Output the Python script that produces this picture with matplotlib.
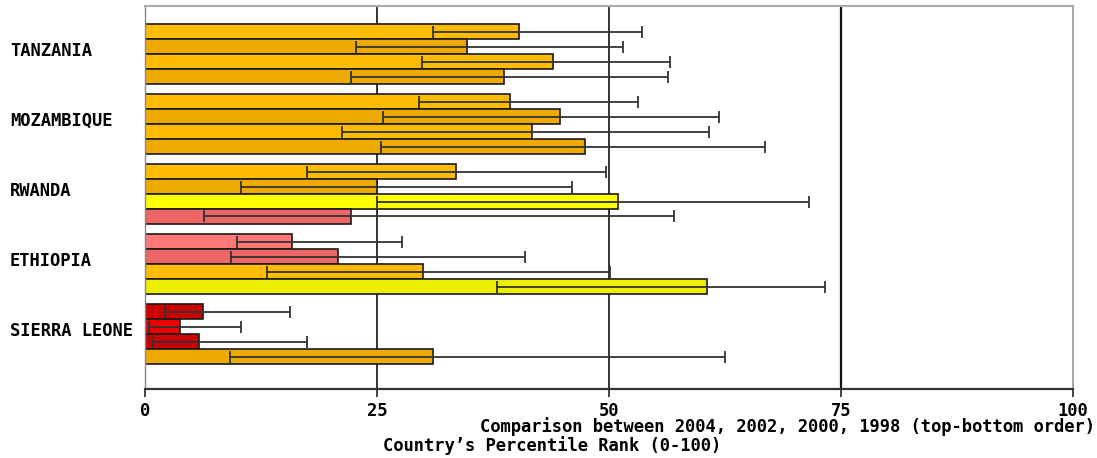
import numpy as np
import matplotlib
matplotlib.use("Agg")
import matplotlib.pyplot as plt

# === Data (percentile rank, with lower/upper error bounds) ===
countries = ["TANZANIA", "MOZAMBIQUE", "RWANDA", "ETHIOPIA", "SIERRA LEONE"]
years = [2004, 2002, 2000, 1998]

rank_2004 = [40.3, 39.3, 33.5, 15.8, 6.2]
low_2004 = [31.0, 29.5, 17.5, 9.9, 2.2]
high_2004 = [53.6, 53.1, 49.7, 27.7, 15.6]

rank_2002 = [34.7, 44.7, 25.0, 20.8, 3.8]
low_2002 = [22.7, 25.6, 10.3, 9.3, 0.45]
high_2002 = [51.5, 61.8, 46.0, 40.9, 10.3]

rank_2000 = [44.0, 41.7, 51.0, 30.0, 5.8]
low_2000 = [29.8, 21.2, 25.0, 13.2, 0.9]
high_2000 = [56.6, 60.8, 71.6, 50.1, 17.5]

rank_1998 = [38.7, 47.4, 22.2, 60.6, 31.0]
low_1998 = [22.2, 25.4, 6.4, 37.9, 9.2]
high_1998 = [56.4, 66.8, 57.0, 73.3, 62.5]

ranks = [rank_2004, rank_2002, rank_2000, rank_1998]
lows = [low_2004, low_2002, low_2000, low_1998]
highs = [high_2004, high_2002, high_2000, high_1998]

x_ticks = [0, 25, 50, 75, 100]
x_title = "Comparison between 2004, 2002, 2000, 1998 (top-bottom order)"
x_label = "Country\u2019s Percentile Rank (0-100)"


def bar_color(v, row):
    # colour band by percentile, alternating shade per year row
    light = row % 2 == 0
    if v < 10:
        return "#CC0000" if light else "#EE0000"
    elif v < 25:
        return "#FF7777" if light else "#EE6666"
    elif v < 50:
        return "#FFBB00" if light else "#EEAA00"
    elif v < 75:
        return "#FFFF00" if light else "#EEEE00"
    return "#66CC66" if light else "#55BB55"


mono = {"family": "DejaVu Sans Mono", "weight": "bold", "size": 12.3}

fig = plt.figure(figsize=(10.97, 4.58), dpi=100)
ax = fig.add_axes([145 / 1097, 1 - 389 / 458, (1073 - 145) / 1097, 383 / 458])

h = 15 / 70
centers = np.arange(len(countries))

# grid lines behind bars
for g in [25, 50]:
    ax.axvline(g, color="#333333", lw=1.4, zorder=0)
ax.axvline(75, color="#111111", lw=1.6, zorder=0)

for row in range(len(years)):
    y = centers + (row - 1.5) * h
    vals = np.array(ranks[row])
    lo = np.array(lows[row])
    hi = np.array(highs[row])
    cols = [bar_color(v, row) for v in vals]
    ax.barh(y, vals, height=h, color=cols, edgecolor="#1a1a1a", linewidth=1.2, zorder=2)
    ax.errorbar(vals, y, xerr=[vals - lo, hi - vals], fmt="none", ecolor="#333333",
                elinewidth=1.3, capsize=4.5, capthick=1.3, zorder=3)

ax.set_xlim(0, 100)
ax.set_ylim(4 + 55 / 70, -48 / 70)

ax.set_xticks(x_ticks)
ax.set_xticklabels([str(t) for t in x_ticks], fontdict=mono)
ax.tick_params(axis="x", direction="out", length=6, width=1.3, color="#333333", pad=3)
ax.set_yticks([])

for i, c in enumerate(countries):
    fig.text(10 / 1097, 1 - (centers[i] * 70 + 54 - 3) / 458, c, ha="left", va="center", fontdict=mono)

for s in ["top", "right"]:
    ax.spines[s].set_color("#aaaaaa")
    ax.spines[s].set_linewidth(1.5)
ax.spines["left"].set_color("#888888")
ax.spines["left"].set_linewidth(1.0)
ax.spines["bottom"].set_color("#333333")
ax.spines["bottom"].set_linewidth(1.6)

fig.text(1095 / 1097, 1 - 427 / 458, x_title, ha="right", va="center", fontdict=mono)
fig.text(383 / 1097, 1 - 446 / 458, x_label, ha="left", va="center", fontdict=mono)

fig.savefig("out.png", dpi=100)
